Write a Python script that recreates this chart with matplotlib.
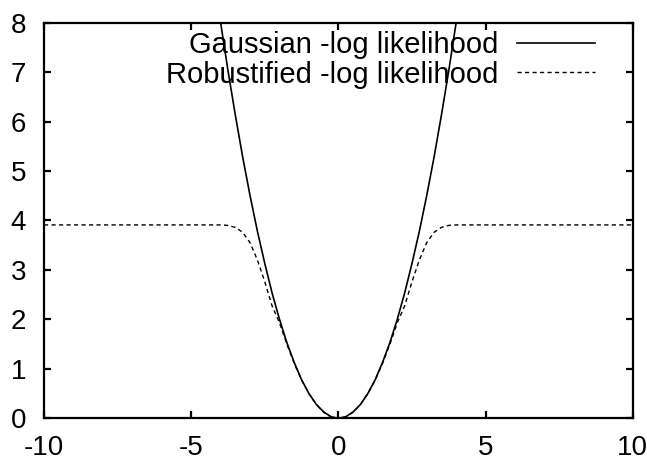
import matplotlib
matplotlib.use("Agg")
import matplotlib.pyplot as plt

plt.rcParams['font.family'] = ['Liberation Sans', 'DejaVu Sans']

# Gaussian negative log likelihood, sampled along the residual axis
gauss_x = [-4.0, -3.75, -3.5, -3.25, -3.0, -2.75, -2.5, -2.25, -2.0, -1.75,
           -1.5, -1.25, -1.0, -0.75, -0.5, -0.25, 0.0, 0.25, 0.5, 0.75, 1.0,
           1.25, 1.5, 1.75, 2.0, 2.25, 2.5, 2.75, 3.0, 3.25, 3.5, 3.75, 4.0]
gauss_y = [8.00, 7.03, 6.13, 5.28, 4.50, 3.78, 3.13, 2.53, 2.00, 1.53,
           1.13, 0.78, 0.50, 0.28, 0.13, 0.03, 0.00, 0.03, 0.13, 0.28, 0.50,
           0.78, 1.13, 1.53, 2.00, 2.53, 3.13, 3.78, 4.50, 5.28, 6.13, 7.03, 8.00]

# Robustified negative log likelihood (saturates for large residuals)
robust_x = [-10.0, -4.25, -4.0, -3.75, -3.5, -3.25, -3.0, -2.75, -2.5, -2.25,
            -2.0, -1.75, -1.5, -1.25, -1.0, -0.75, -0.5, -0.25, 0.0, 0.25,
            0.5, 0.75, 1.0, 1.25, 1.5, 1.75, 2.0, 2.25, 2.5, 2.75, 3.0, 3.25,
            3.5, 3.75, 4.0, 4.25, 10.0]
robust_y = [3.91, 3.91, 3.91, 3.90, 3.86, 3.76, 3.55, 3.20, 2.76, 2.27,
            1.93, 1.50, 1.11, 0.77, 0.50, 0.28, 0.12, 0.03, 0.00, 0.03,
            0.12, 0.28, 0.50, 0.77, 1.11, 1.50, 1.93, 2.27, 2.76, 3.20, 3.55, 3.76,
            3.86, 3.90, 3.91, 3.91, 3.91]

x_ticks = [-10, -5, 0, 5, 10]
y_ticks = [0, 1, 2, 3, 4, 5, 6, 7, 8]
labels = ["Gaussian -log likelihood", "Robustified -log likelihood"]

fig = plt.figure(figsize=(6.47, 4.62), dpi=100)
ax = fig.add_axes([0.068, 0.0946, 0.91, 0.8564])

ax.plot(gauss_x, gauss_y, color='black', lw=1.2, label=labels[0])
ax.plot(robust_x, robust_y, color='black', lw=1.0, dashes=(3.0, 2.4),
        label=labels[1])

ax.set_xlim(-10, 10)
ax.set_ylim(0, 8)
ax.set_xticks(x_ticks)
ax.set_yticks(y_ticks)
ax.set_xticklabels([str(v) for v in x_ticks])
ax.set_yticklabels([str(v) for v in y_ticks])

for s in ax.spines.values():
    s.set_linewidth(1.6)
ax.tick_params(direction='in', length=5, width=1.6, labelsize=20,
               top=True, right=True)
ax.tick_params(axis='x', pad=12)
ax.tick_params(axis='y', pad=13)

ax.legend(loc='upper right', bbox_to_anchor=(0.9355, 0.979), frameon=False,
          markerfirst=False, fontsize=21, handlelength=2.67,
          handletextpad=0.65, borderpad=0, borderaxespad=0,
          labelspacing=0.055)

fig.savefig("out.png", dpi=100)
